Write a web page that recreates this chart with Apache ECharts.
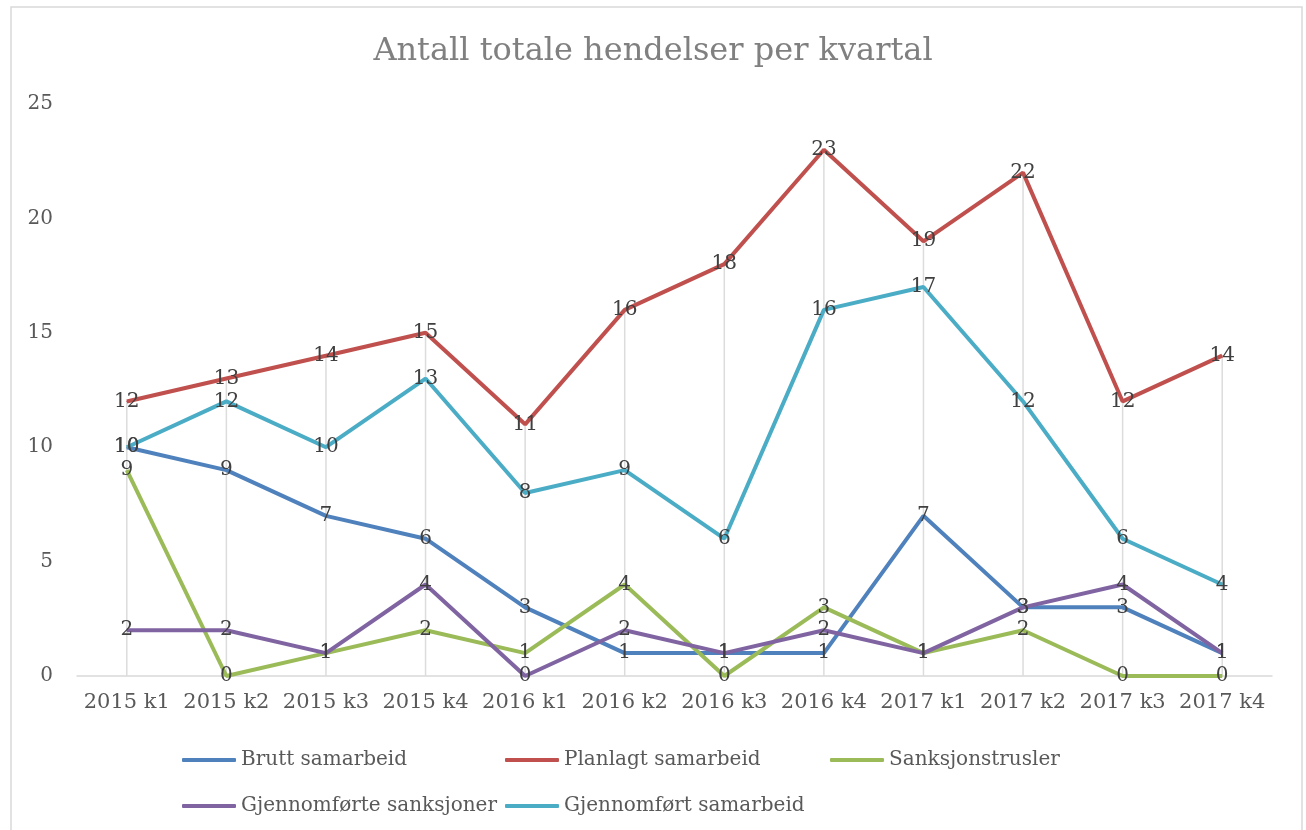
<!DOCTYPE html>
<html>
<head>
<meta charset="utf-8">
<script src="https://cdn.jsdelivr.net/npm/echarts@6/dist/echarts.min.js"></script>
<style>
  html, body { margin: 0; padding: 0; background: #fff; }
  #chart { width: 1306px; height: 830px; }
</style>
</head>
<body>
<div id="chart"></div>
<script>
const quarters = ['2015 k1', '2015 k2', '2015 k3', '2015 k4', '2016 k1', '2016 k2',
  '2016 k3', '2016 k4', '2017 k1', '2017 k2', '2017 k3', '2017 k4'];

const bruttSamarbeid = [10, 9, 7, 6, 3, 1, 1, 1, 7, 3, 3, 1];
const planlagtSamarbeid = [12, 13, 14, 15, 11, 16, 18, 23, 19, 22, 12, 14];
const sanksjonstrusler = [9, 0, 1, 2, 1, 4, 0, 3, 1, 2, 0, 0];
const gjennomforteSanksjoner = [2, 2, 1, 4, 0, 2, 1, 2, 1, 3, 4, 1];
const gjennomfortSamarbeid = [10, 12, 10, 13, 8, 9, 6, 16, 17, 12, 6, 4];

const seriesDefs = [
  { name: 'Brutt samarbeid', data: bruttSamarbeid, color: '#4F81BD' },
  { name: 'Planlagt samarbeid', data: planlagtSamarbeid, color: '#C0504D' },
  { name: 'Sanksjonstrusler', data: sanksjonstrusler, color: '#9BBB59' },
  { name: 'Gjennomførte sanksjoner', data: gjennomforteSanksjoner, color: '#8064A2' },
  { name: 'Gjennomført samarbeid', data: gjennomfortSamarbeid, color: '#4BACC6' }
];

// drop lines run from the highest point down to the axis
const dropLines = quarters.map((_, i) => Math.max(...seriesDefs.map(s => s.data[i])));

const font = 'DejaVu Serif';

const legendSpots = [
  { left: 177, top: 745 },
  { left: 500, top: 745 },
  { left: 825, top: 745 },
  { left: 177, top: 791 },
  { left: 500, top: 791 }
];

const chart = echarts.init(document.getElementById('chart'));

chart.setOption({
  animation: false,
  backgroundColor: '#fff',
  title: {
    text: 'Antall totale hendelser per kvartal',
    left: 'center',
    top: 31,
    textStyle: { fontFamily: font, fontSize: 32, fontWeight: 'normal', color: '#808080' }
  },
  graphic: [{
    type: 'rect',
    shape: { x: 11, y: 7, width: 1291, height: 840 },
    style: { fill: 'none', stroke: '#d9d9d9', lineWidth: 1.5 },
    silent: true
  }],
  legend: seriesDefs.map((s, i) => ({
    data: [s.name],
    left: legendSpots[i].left,
    top: legendSpots[i].top,
    icon: 'roundRect',
    itemWidth: 54,
    itemHeight: 4,
    textStyle: { fontFamily: font, fontSize: 20, color: '#595959' }
  })),
  grid: { left: 77, right: 34, top: 104, bottom: 154 },
  xAxis: {
    type: 'category',
    data: quarters,
    axisLine: { lineStyle: { color: '#d9d9d9', width: 1.5 } },
    axisTick: { show: false },
    axisLabel: { interval: 0, fontFamily: font, fontSize: 21, color: '#595959', margin: 16 },
    splitLine: { show: false }
  },
  yAxis: {
    type: 'value',
    min: 0,
    max: 25,
    interval: 5,
    axisLine: { show: false },
    axisTick: { show: false },
    splitLine: { show: false },
    axisLabel: { fontFamily: font, fontSize: 20, color: '#595959', margin: 24 }
  },
  series: [
    {
      type: 'bar',
      name: 'drop',
      data: dropLines,
      barWidth: 1.5,
      silent: true,
      itemStyle: { color: '#dcdcdc' },
      z: 1
    }
  ].concat(seriesDefs.map(s => ({
    type: 'line',
    name: s.name,
    data: s.data,
    symbol: 'circle',
    symbolSize: 1,
    showSymbol: true,
    color: s.color,
    itemStyle: { color: s.color },
    lineStyle: { width: 4, color: s.color },
    label: {
      show: true,
      position: 'inside',
      fontFamily: font,
      fontSize: 20,
      color: '#404040'
    },
    z: 3
  })))
});
</script>
</body>
</html>
